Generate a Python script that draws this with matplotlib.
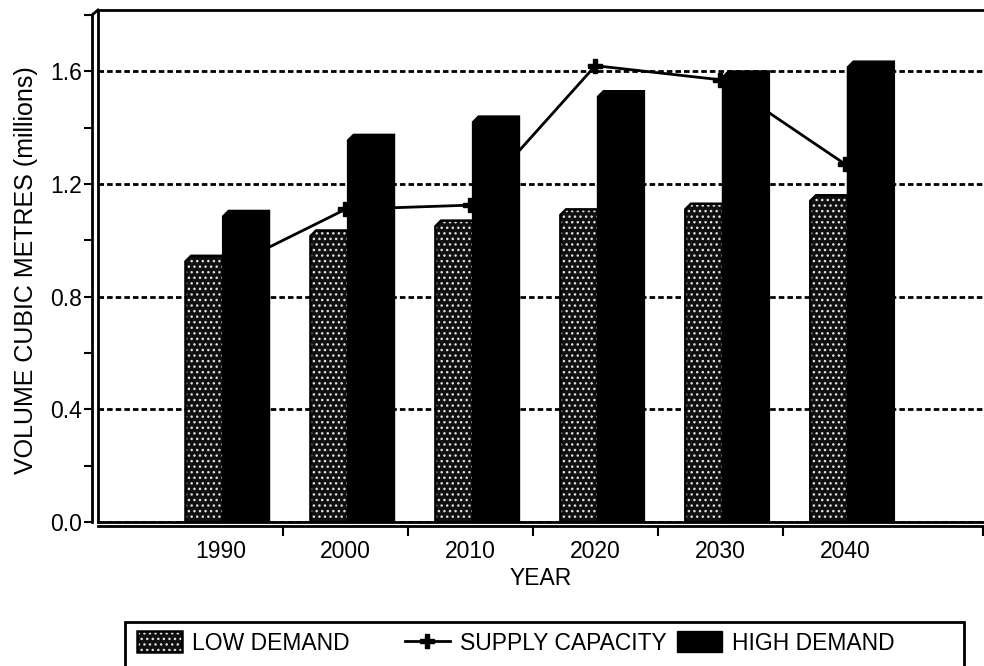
import numpy as np
import matplotlib.pyplot as plt
from matplotlib.patches import Patch, Rectangle
from matplotlib.lines import Line2D
from matplotlib.legend_handler import HandlerTuple
from matplotlib.ticker import MultipleLocator, FixedLocator

# water demand vs supply projections
years = ['1990', '2000', '2010', '2020', '2030', '2040']
low_demand = [0.945, 1.035, 1.07, 1.11, 1.13, 1.16]
high_demand = [1.105, 1.375, 1.44, 1.53, 1.60, 1.635]
supply_capacity = [0.89, 1.11, 1.125, 1.62, 1.57, 1.27]

plt.rcParams['font.family'] = ['Liberation Sans', 'DejaVu Sans']
plt.rcParams['font.size'] = 16.5
plt.rcParams['hatch.linewidth'] = 1.0

STIPPLE_FACE = '#101010'
STIPPLE_DOTS = '#e0e0e0'
STIPPLE = '...'


def chamfer_bar(ax, left, width, height, cut_x=0.045, cut_y=0.02, **kw):
    # bar with a clipped top-left corner, like the old 3-D bar style
    xs = [left, left, left + cut_x, left + width, left + width]
    ys = [0, height - cut_y, height, height, 0]
    return ax.fill(xs, ys, **kw)


fig = plt.figure(figsize=(9.84, 6.66), dpi=100)
ax = fig.add_axes([98 / 984, 144 / 666, 1 - 98 / 984, 512 / 666])

x = np.arange(len(years))
for xi, lo, hi in zip(x, low_demand, high_demand):
    chamfer_bar(ax, xi - 0.28, 0.30, lo, facecolor=STIPPLE_FACE, edgecolor=STIPPLE_DOTS,
                hatch=STIPPLE, linewidth=0, zorder=3)
    chamfer_bar(ax, xi - 0.28, 0.30, lo, fill=False, edgecolor='black', linewidth=1.8, zorder=3.1)
    chamfer_bar(ax, xi + 0.02, 0.37, hi, facecolor='black', edgecolor='black',
                linewidth=1.5, zorder=3.2)

ax.plot(x, supply_capacity, color='black', linewidth=2, marker='P', markersize=10, zorder=2)

ax.set_xlim(-0.98, 6.11)
ax.set_ylim(0, 1.8 * 512 / 507)

# y axis: front wall line with ticks, back wall line plain
ax.spines['left'].set_position(('outward', 4.3))
ax.spines['left'].set_bounds(0, 1.8)
ax.spines['left'].set_linewidth(2)
ax.spines['bottom'].set_position(('outward', 3))
ax.spines['bottom'].set_linewidth(2)
ax.spines['top'].set_linewidth(2)
ax.spines['right'].set_visible(False)
ax.axvline(-0.98, color='black', linewidth=2, zorder=4, clip_on=False)
ax.axhline(0, color='black', linewidth=2, zorder=4, clip_on=False)
fig.add_artist(Line2D([92 / 984, 98 / 984], [651 / 666, 656 / 666],
                      transform=fig.transFigure, color='black', linewidth=2))

ax.yaxis.set_major_locator(MultipleLocator(0.4))
ax.yaxis.set_minor_locator(MultipleLocator(0.2))
ax.yaxis.set_major_formatter(lambda v, pos: f'{v:.1f}')
ax.tick_params(axis='y', which='both', direction='out', length=6, width=1.5, pad=1)
ax.yaxis.grid(True, which='major', color='black', linewidth=2, linestyle=(0, (2, 1.1)))
ax.set_axisbelow(True)

ax.set_xticks(x, years)
ax.xaxis.set_minor_locator(FixedLocator([0.5, 1.5, 2.5, 3.5, 4.5, 6.1]))
ax.tick_params(axis='x', which='major', length=0, pad=10)
ax.tick_params(axis='x', which='minor', direction='out', length=7, width=1.5)

ax.set_xlabel('YEAR', labelpad=3)
ax.set_ylabel('VOLUME CUBIC METRES (millions)', fontsize=18)
ax.yaxis.set_label_coords(-0.068, 0.492)

# legend strip along the bottom edge
fig.add_artist(Rectangle((125 / 984, -0.1), (964 - 125) / 984, 0.1 + 44 / 666,
                         transform=fig.transFigure, fill=False, edgecolor='black', linewidth=2))

low_handle = (Patch(facecolor=STIPPLE_FACE, edgecolor=STIPPLE_DOTS, hatch=STIPPLE, linewidth=0),
              Patch(fill=False, edgecolor='black', linewidth=1.8))
supply_handle = Line2D([], [], color='black', linewidth=2, marker='P', markersize=10)
high_handle = Patch(facecolor='black', edgecolor='black')

legend_y = 23 / 666
for handle, label, px in [(low_handle, 'LOW DEMAND', 137),
                          (supply_handle, 'SUPPLY CAPACITY', 405),
                          (high_handle, 'HIGH DEMAND', 677)]:
    fig.legend([handle], [label], loc='center left', bbox_to_anchor=(px / 984, legend_y),
               frameon=False, borderpad=0, borderaxespad=0, handlelength=1.96,
               handleheight=1.0, handletextpad=0.45,
               handler_map={tuple: HandlerTuple(ndivide=1)})

fig.savefig('out.png', dpi=100)
